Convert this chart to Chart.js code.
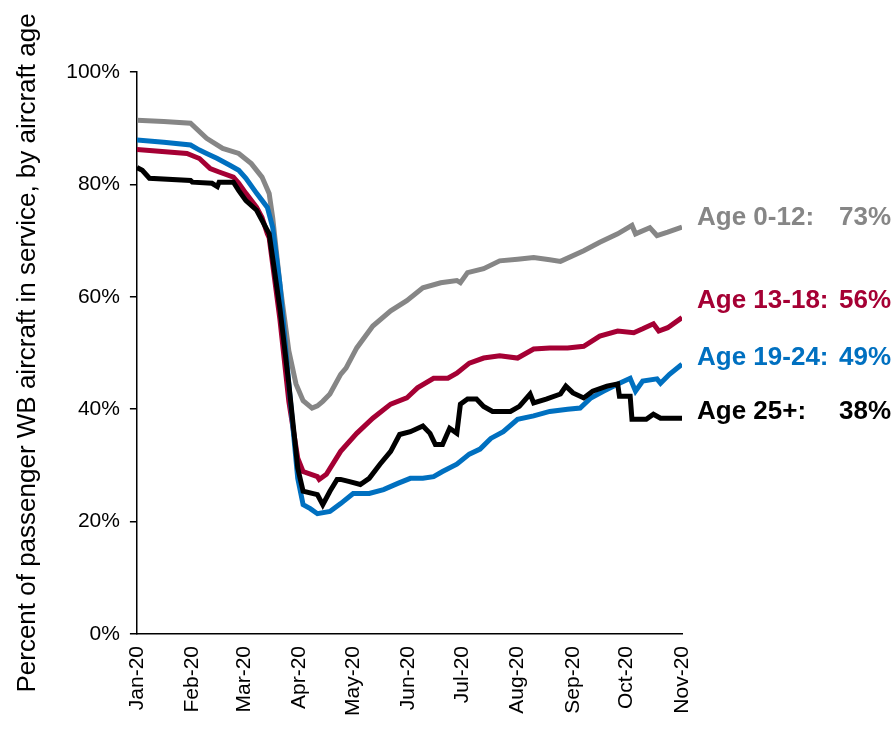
<!DOCTYPE html>
<html>
<head>
<meta charset="utf-8">
<script src="https://cdn.jsdelivr.net/npm/chart.js@4/dist/chart.umd.min.js"></script>
<style>
  html, body { margin: 0; padding: 0; background: #fff; }
  #wrap { width: 896px; height: 735px; }
</style>
</head>
<body>
<div id="wrap"><canvas id="chart"></canvas></div>
<script>
// x values are days since Jan 1 2020
const monthStarts = [0, 31, 60, 91, 121, 152, 182, 213, 244, 274, 305];
const monthLabels = ["Jan-20", "Feb-20", "Mar-20", "Apr-20", "May-20", "Jun-20", "Jul-20", "Aug-20", "Sep-20", "Oct-20", "Nov-20"];
const yTicks = [0, 20, 40, 60, 80, 100];

const age012Days = [0, 15, 30, 39, 48, 57, 64, 70, 74, 76, 80, 85, 89, 93, 98, 101, 104, 108, 114, 117, 123, 132, 142, 151, 160, 170, 179, 181, 185, 194, 203, 213, 222, 231, 237, 250, 259, 269, 277, 279, 287, 291, 297, 305];
const age012Values = [91.4, 91.2, 90.9, 88.2, 86.4, 85.5, 83.7, 81.3, 78.4, 74, 62.3, 50.4, 44.5, 41.5, 40.2, 40.6, 41.4, 42.7, 46.2, 47.3, 50.9, 54.8, 57.5, 59.3, 61.6, 62.5, 62.9, 62.5, 64.3, 65, 66.4, 66.7, 67, 66.6, 66.3, 68.2, 69.7, 71.2, 72.7, 71.2, 72.3, 70.9, 71.5, 72.4];

const age1318Days = [0, 28, 35, 41, 46, 54, 57, 61, 67, 70, 73, 74, 80, 85, 90, 93, 101, 102, 106, 114, 123, 132, 142, 151, 157, 166, 174, 179, 186, 194, 203, 213, 222, 231, 241, 250, 259, 269, 278, 283, 289, 292, 297, 305];
const age1318Values = [86.2, 85.5, 84.6, 82.8, 82.2, 81.3, 80.2, 78.4, 75.9, 74.1, 71.2, 70.5, 56, 41.4, 31.3, 28.9, 28, 27.5, 28.4, 32.5, 35.7, 38.4, 40.9, 42, 43.8, 45.5, 45.5, 46.4, 48.2, 49.1, 49.5, 49.1, 50.7, 50.9, 50.9, 51.2, 53, 53.9, 53.6, 54.3, 55.2, 53.9, 54.5, 56.3];

const age1924Days = [0, 15, 30, 35, 39, 45, 52, 57, 61, 67, 73, 76, 80, 85, 90, 93, 97, 101, 108, 114, 121, 130, 138, 146, 153, 160, 166, 171, 179, 186, 192, 198, 205, 213, 222, 231, 241, 248, 254, 261, 270, 276, 279, 283, 291, 293, 298, 305];
const age1924Values = [87.9, 87.5, 87, 86.1, 85.5, 84.6, 83.4, 82.5, 81.1, 78.4, 75.9, 72.3, 62.3, 44.5, 27.7, 23, 22.3, 21.4, 21.8, 23.2, 25, 25, 25.7, 26.8, 27.7, 27.7, 28, 28.9, 30.2, 32, 32.9, 34.8, 36, 38.2, 38.8, 39.6, 40, 40.2, 42, 43.2, 44.6, 45.5, 43.2, 45, 45.4, 44.6, 46.2, 48];

const age25Days = [0, 3, 7, 30, 31, 42, 45, 46, 54, 57, 61, 67, 70, 74, 80, 85, 90, 93, 101, 104, 108, 112, 114, 119, 125, 130, 136, 142, 147, 153, 160, 164, 167, 171, 175, 179, 181, 185, 190, 194, 199, 209, 214, 220, 222, 229, 237, 240, 244, 250, 255, 263, 269, 270, 276, 277, 285, 289, 293, 305];
const age25Values = [83, 82.5, 81.1, 80.7, 80.4, 80.2, 79.6, 80.4, 80.4, 78.9, 77.1, 75.4, 73.6, 71.2, 58, 44.5, 29.5, 25.4, 24.8, 23, 25.4, 27.5, 27.5, 27.1, 26.6, 27.7, 30.2, 32.5, 35.5, 36, 37, 35.7, 33.7, 33.7, 36.6, 35.7, 40.9, 41.8, 41.8, 40.5, 39.6, 39.6, 40.5, 42.7, 41.1, 41.8, 42.7, 44.1, 42.9, 42, 43.2, 44.1, 44.5, 42.3, 42.3, 38.2, 38.2, 39.1, 38.4, 38.4];

// end-of-line labels: name, final value, where it sits on the y scale
const endLabels = [
  { name: "Age 0-12:", value: "73%", at: 74.1, color: "#868686" },
  { name: "Age 13-18:", value: "56%", at: 59.3, color: "#A50034" },
  { name: "Age 19-24:", value: "49%", at: 49.1, color: "#0070C0" },
  { name: "Age 25+:", value: "38%", at: 39.6, color: "#000000" },
];

const FONT = "'Liberation Sans', Arial, sans-serif";

function toPoints(days, values) {
  return days.map((d, i) => ({ x: d, y: values[i] }));
}

const endLabelPlugin = {
  id: "endLabels",
  afterDraw(chart) {
    const ctx = chart.ctx;
    const y = chart.scales.y;
    const left = chart.chartArea.right + 15;
    const right = chart.width - 5;
    ctx.save();
    ctx.font = "bold 26px " + FONT;
    ctx.textBaseline = "middle";
    endLabels.forEach((l) => {
      const py = y.getPixelForValue(l.at);
      ctx.fillStyle = l.color;
      ctx.textAlign = "left";
      ctx.fillText(l.name, left, py);
      ctx.textAlign = "right";
      ctx.fillText(l.value, right, py);
    });
    ctx.restore();
  },
};

const lineStyle = { borderWidth: 5, pointRadius: 0, fill: false, tension: 0 };

new Chart(document.getElementById("chart").getContext("2d"), {
  type: "line",
  data: {
    datasets: [
      { label: "Age 25+", data: toPoints(age25Days, age25Values), borderColor: "#000000", ...lineStyle },
      { label: "Age 19-24", data: toPoints(age1924Days, age1924Values), borderColor: "#0070C0", ...lineStyle },
      { label: "Age 13-18", data: toPoints(age1318Days, age1318Values), borderColor: "#A50034", ...lineStyle },
      { label: "Age 0-12", data: toPoints(age012Days, age012Values), borderColor: "#868686", ...lineStyle },
    ],
  },
  options: {
    responsive: true,
    maintainAspectRatio: false,
    animation: false,
    layout: { padding: { top: 72, right: 214, bottom: 15, left: 4 } },
    plugins: { legend: { display: false }, tooltip: { enabled: false } },
    scales: {
      x: {
        type: "linear",
        min: 0,
        max: 305,
        afterBuildTicks: (axis) => {
          axis.ticks = monthStarts.map((v) => ({ value: v }));
        },
        ticks: {
          autoSkip: false,
          minRotation: 90,
          maxRotation: 90,
          padding: 4,
          color: "#000",
          font: { family: FONT, size: 21 },
          callback: (v) => monthLabels[monthStarts.indexOf(v)],
        },
        grid: { display: false },
        border: { display: true, color: "#000", width: 1.5 },
      },
      y: {
        min: 0,
        max: 100,
        afterBuildTicks: (axis) => {
          axis.ticks = yTicks.map((v) => ({ value: v }));
        },
        ticks: {
          padding: 10,
          color: "#000",
          font: { family: FONT, size: 21 },
          callback: (v) => v + "%",
        },
        grid: { drawOnChartArea: false, drawTicks: true, tickLength: 7, color: "#000", lineWidth: 1.5 },
        border: { display: true, color: "#000", width: 1.5 },
        title: {
          display: true,
          text: "Percent of passenger WB aircraft in service, by aircraft age",
          color: "#000",
          font: { family: FONT, size: 26 },
          padding: { top: 8, bottom: 13 },
        },
      },
    },
  },
  plugins: [endLabelPlugin],
});
</script>
</body>
</html>
